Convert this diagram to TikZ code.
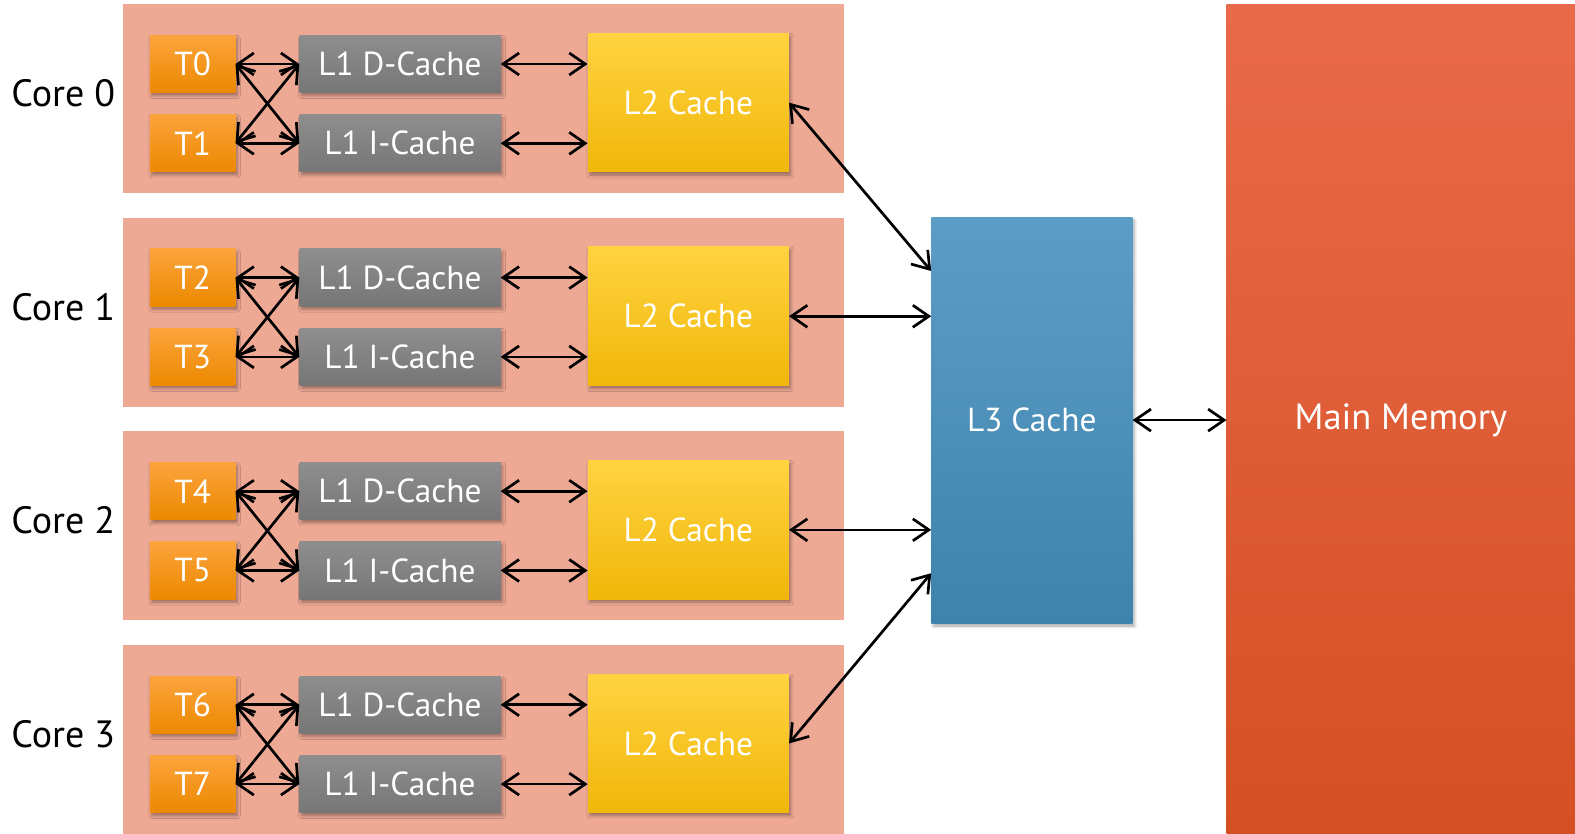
\documentclass[tikz,border=0pt]{standalone}
\usepackage{fontspec}
\setmainfont{PT Sans}
\usetikzlibrary{arrows.meta,shadows.blur,calc}

\definecolor{coreC}{RGB}{238,169,149}
\definecolor{thrTop}{RGB}{252,163,60}
\definecolor{thrBot}{RGB}{236,137,0}
\definecolor{lOneTop}{RGB}{142,142,142}
\definecolor{lOneBot}{RGB}{118,118,118}
\definecolor{lTwoTop}{RGB}{255,211,64}
\definecolor{lTwoBot}{RGB}{241,183,10}
\definecolor{lThreeTop}{RGB}{92,157,197}
\definecolor{lThreeBot}{RGB}{62,131,173}
\definecolor{memTop}{RGB}{233,106,74}
\definecolor{memBot}{RGB}{212,79,35}

\tikzset{
  corebox/.style={fill=coreC, draw=none, anchor=north west, inner sep=0pt,
    minimum width=721.3pt, minimum height=189pt},
  corelabel/.style={text=black, font=\fontsize{38}{40}\selectfont, inner sep=0pt},
  cachebox/.style={anchor=north west, inner sep=0pt, text=white,
    font=\fontsize{33.3}{35}\selectfont,
    blur shadow={shadow xshift=2pt, shadow yshift=-3pt,
      shadow blur radius=3pt, shadow opacity=35}},
  thread/.style={cachebox, minimum width=85.4pt, minimum height=57.2pt,
    top color=thrTop, bottom color=thrBot},
  lone/.style={cachebox, minimum width=201pt, minimum height=57.2pt,
    top color=lOneTop, bottom color=lOneBot},
  ltwo/.style={cachebox, minimum width=201pt, minimum height=138.7pt,
    top color=lTwoTop, bottom color=lTwoBot},
  lthree/.style={cachebox, minimum width=201pt, minimum height=405.8pt,
    top color=lThreeTop, bottom color=lThreeBot},
  mem/.style={cachebox, minimum width=348.5pt, minimum height=832pt,
    top color=memTop, bottom color=memBot, font=\fontsize{36.5}{38}\selectfont},
  link/.style={line width=2.7pt, black,
    {Straight Barb[length=16pt,width=22pt,line width=2.7pt]}-{Straight Barb[length=16pt,width=22pt,line width=2.7pt]}}
}

\begin{document}
\begin{tikzpicture}[x=1pt,y=-1pt]
\useasboundingbox (0,0) rectangle (1575,834);

% four cores, each with two threads, split L1 and a private L2
\foreach \i in {0,...,3}{
  \pgfmathsetmacro{\dy}{213.6*\i}
  \pgfmathtruncatemacro{\ta}{2*\i}
  \pgfmathtruncatemacro{\tb}{2*\i+1}
  \node[corebox] (core\i) at (122.5,4+\dy) {};
  \node[corelabel] (clab\i) at (63.3,93.4+\dy) {Core \i};
  \node[thread] (ta\i) at (149.7,35.2+\dy) {T\ta};
  \node[thread] (tb\i) at (149.7,114.5+\dy) {T\tb};
  \node[lone] (ld\i) at (299.3,35.2+\dy) {L1 D-Cache};
  \node[lone] (li\i) at (299.3,114.5+\dy) {L1 I-Cache};
  \node[ltwo] (l2\i) at (587.6,33.1+\dy) {L2 Cache};
}

% shared L3 and main memory
\node[lthree] (L3) at (931.2,217) {L3 Cache};
\node[mem] (MM) at (1226.5,4) {Main Memory};

\coordinate (l3in0) at ($(L3.north west)+(0,54)$);
\coordinate (l3in3) at ($(L3.south west)+(0,-50)$);

% links inside each core
\foreach \i in {0,...,3}{
  \draw[link] (ta\i.east) -- (ld\i.west);
  \draw[link] (ta\i.east) -- (li\i.west);
  \draw[link] (tb\i.east) -- (ld\i.west);
  \draw[link] (tb\i.east) -- (li\i.west);
  \draw[link] (ld\i.east) -- (ld\i.east -| l2\i.west);
  \draw[link] (li\i.east) -- (li\i.east -| l2\i.west);
}

% L2 to L3, L3 to memory
\draw[link] (l20.east) -- (l3in0);
\draw[link] (l21.east) -- (l21.east -| L3.west);
\draw[link] (l22.east) -- (l22.east -| L3.west);
\draw[link] (l23.east) -- (l3in3);
\draw[link] (L3.east) -- (L3.east -| MM.west);
\end{tikzpicture}
\end{document}
